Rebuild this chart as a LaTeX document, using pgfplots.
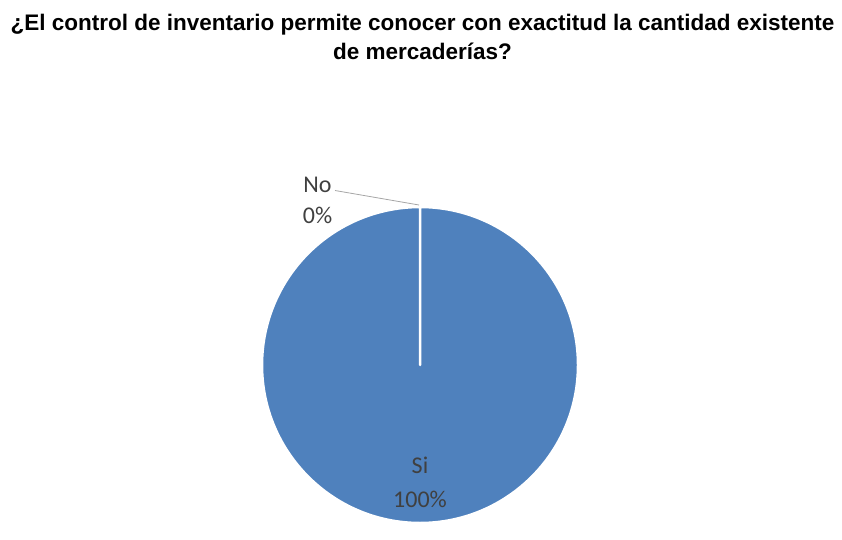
\documentclass[border=0pt]{standalone}
\usepackage{pgfplots}
\usepackage{pgfplotstable}
\pgfplotsset{compat=1.18}
\usepackage{fontspec}
\setmainfont{Liberation Sans}
\newfontfamily\calibri{Carlito}
\definecolor{pieblue}{HTML}{4F81BD}
\definecolor{lbl}{HTML}{404040}
\definecolor{leader}{HTML}{A6A6A6}

\pgfplotstableread[col sep=comma]{
label,value
Si,100
No,0
}\piedata

\pgfplotstablegetelem{0}{value}\of\piedata \let\vSi\pgfplotsretval
\pgfplotstablegetelem{1}{value}\of\piedata \let\vNo\pgfplotsretval
\pgfmathsetmacro\aSiStart{90}
\pgfmathsetmacro\aSiEnd{90-3.6*\vSi}
\pgfmathsetmacro\aNoEnd{\aSiEnd-3.6*\vNo}

\begin{document}
\begin{tikzpicture}
\begin{axis}[
  width=842pt, height=539pt, scale only axis,
  xmin=0, xmax=842, ymin=0, ymax=539,
  hide axis, clip=false,
]
\draw[draw=none] (rel axis cs:0,0) rectangle (rel axis cs:1,1);
% Si slice
\filldraw[fill=pieblue, draw=white, line width=2.5pt, line join=round]
  (axis cs:420,174) -- ++(\aSiStart:158) arc[start angle=\aSiStart, end angle=\aSiEnd, radius=158] -- cycle;
% No slice (0%)
\ifdim\vNo pt>0pt
\filldraw[fill=pieblue!60, draw=white, line width=2.5pt]
  (axis cs:420,174) -- ++(\aSiEnd:158) arc[start angle=\aSiEnd, end angle=\aNoEnd, radius=158] -- cycle;
\fi
% leader line
\draw[leader, line width=0.8pt] (axis cs:335,348.5) -- (axis cs:419,334);
% title
\node[anchor=base, font=\bfseries\fontsize{22.5}{27}\selectfont] at (axis cs:422.5,508)
  {¿El control de inventario permite conocer con exactitud la cantidad existente};
\node[anchor=base, font=\bfseries\fontsize{22.5}{27}\selectfont] at (axis cs:422.5,479)
  {de mercaderías?};
% labels
\node[anchor=base, text=lbl, font=\calibri\fontsize{24}{28}\selectfont, inner sep=0pt] at (axis cs:317.5,347) {No};
\node[anchor=base, text=lbl, font=\calibri\fontsize{24}{28}\selectfont, inner sep=0pt] at (axis cs:317.5,316) {0\%};
\node[anchor=base, text=lbl, font=\calibri\fontsize{24}{28}\selectfont, inner sep=0pt] at (axis cs:420,66) {Si};
\node[anchor=base, text=lbl, font=\calibri\fontsize{24}{28}\selectfont, inner sep=0pt] at (axis cs:420,32) {100\%};
\end{axis}
\end{tikzpicture}
\end{document}
